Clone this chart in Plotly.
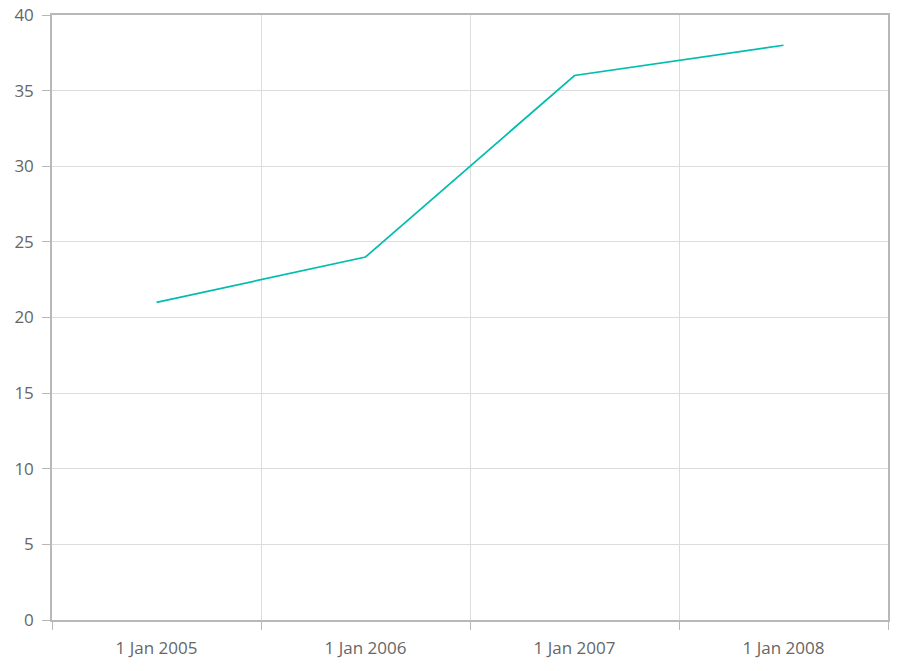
import plotly.graph_objects as go

categories = ["1 Jan 2005", "1 Jan 2006", "1 Jan 2007", "1 Jan 2008"]
values = [21, 24, 36, 38]
y_ticks = [0, 5, 10, 15, 20, 25, 30, 35, 40]

fig = go.Figure()
fig.add_trace(go.Scatter(
    x=categories, y=values, mode="lines",
    line=dict(color="#00bdae", width=1.7),
    showlegend=False,
))

font = dict(family="Open Sans, Segoe UI, sans-serif", size=17, color="#666666")

fig.update_layout(
    width=911, height=671,
    margin=dict(l=52, r=23, t=15, b=51, autoexpand=False),
    paper_bgcolor="white", plot_bgcolor="white",
    font=font,
    xaxis=dict(
        type="category", range=[-0.5, 3.5], tickson="boundaries",
        showgrid=True, gridcolor="#dcdcdc", gridwidth=1,
        showline=True, linecolor="#b8b8b8", linewidth=1.5, mirror=True,
        ticks="outside", ticklen=8, tickcolor="#b8b8b8", tickwidth=1,
        tickfont=font, zeroline=False, automargin=False,
        ticklabelstandoff=12,
    ),
    yaxis=dict(
        range=[0, 40], tickvals=y_ticks,
        showgrid=True, gridcolor="#dcdcdc", gridwidth=1,
        showline=True, linecolor="#b8b8b8", linewidth=1.5, mirror=True,
        ticks="outside", ticklen=8, tickcolor="#b8b8b8", tickwidth=1,
        tickfont=font, zeroline=False, automargin=False,
        ticklabelstandoff=5,
    ),
)

fig.write_html("out.html")
